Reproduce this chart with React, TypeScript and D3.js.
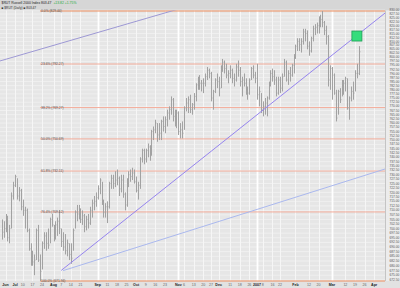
import React from "react";
import * as d3 from "d3";

// ---------- calendar ----------
const HOLIDAYS = ["2006-07-04", "2006-09-04", "2006-11-23", "2006-12-25", "2007-01-01", "2007-01-02", "2007-01-15", "2007-02-19", "2007-04-06"];
const fmt = d3.timeFormat("%Y-%m-%d");
const tradingDays: Date[] = d3.timeDay
  .range(new Date(2006, 5, 22), new Date(2007, 3, 14))
  .filter((d) => d.getDay() !== 0 && d.getDay() !== 6 && !HOLIDAYS.includes(fmt(d)));
const idxOf = (s: string) => tradingDays.findIndex((d) => fmt(d) === s);

// ---------- price data ($RUT daily, Jun 22 2006 .. Mar 21 2007) ----------
const highs = [
  705, 704, 708, 707, 702, 720, 726, 730, 728, 723, 722, 716, 712, 711, 700, 692, 688, 686, 700, 702, 686,
  693, 698, 698, 700, 706, 708, 702, 704, 706, 710, 700, 698, 697, 694, 692, 692, 700, 710, 713, 713,
  711, 710, 708, 707, 708, 712, 716, 718, 720, 724, 728, 726, 716, 714, 715, 726, 730, 730, 732,
  733, 729, 730, 730, 720, 728, 732, 733, 734, 733, 729, 726, 740, 745, 745, 745, 748, 747, 756, 758,
  762, 760, 760, 762, 764, 764, 768, 770, 776, 775, 768, 768, 767, 760, 761, 770, 775, 776, 777, 772,
  778, 784, 788, 789, 786, 787, 790, 794, 793, 791, 780, 787, 790, 788, 795, 799, 798, 796, 792,
  795, 793, 790, 796, 798, 794, 788, 790, 787, 782, 787, 794, 795, 791, 796, 782, 778,
  773, 775, 776, 785, 792, 793, 792, 788, 788, 788, 790, 799, 798, 792, 794, 796, 802, 808, 812,
  812, 812, 818, 818, 817, 810, 813, 820, 821, 822, 826, 827, 829.44, 823, 820, 814, 795, 794, 790,
  780, 780, 781, 786, 786, 788, 787, 776, 782, 785, 792, 796, 807,
];
const lows = [
  694, 695, 698, 693, 692, 700, 716, 723, 716, 715, 710, 707, 700, 698, 688, 680, 680, 675, 683, 682, 671.94,
  678, 689, 688, 689, 692, 701, 693, 694, 696, 697, 690, 688, 686, 685, 683, 681, 688, 700, 704, 705,
  703, 702, 698, 699, 700, 702, 706, 710, 712, 716, 719, 713, 706, 706, 703, 711, 722, 722, 723,
  724, 718, 720, 717, 710, 712, 723, 726, 727, 725, 720, 716, 722, 737, 736, 737, 740, 738, 741, 750,
  754, 749, 750, 750, 755, 754, 758, 762, 765, 761, 758, 757, 753, 751, 751, 756, 767, 766, 766, 765,
  768, 773, 780, 780, 779, 778, 782, 786, 787, 773, 768, 778, 781, 776, 781, 791, 790, 787, 784,
  787, 784, 782, 785, 788, 782, 776, 782, 777, 774, 777, 786, 787, 784, 774, 770, 766,
  764, 765, 764, 774, 782, 785, 783, 776, 777, 778, 779, 788, 785, 783, 785, 788, 790, 799, 804,
  804, 803, 808, 810, 805, 801, 803, 810, 814, 815, 815, 819, 819, 814, 808, 782, 780, 774, 777,
  761, 765, 772, 776, 777, 779, 768, 762, 773, 774, 779, 787, 789,
];
const closes = [
  698, 700, 705, 695, 700, 718, 724, 729, 718, 721, 712, 710, 710, 699, 689, 684, 682, 683, 699, 683, 677,
  692, 696, 692, 691, 705, 702, 695, 702, 704, 700, 693, 690, 688, 692, 686, 684, 699, 709, 708, 711,
  705, 707, 701, 705, 703, 710, 714, 715, 717, 722, 727, 714, 709, 712, 712, 725, 728, 725, 727,
  728, 722, 727, 719, 713, 726, 730, 729, 731, 726, 721, 724, 739, 744, 739, 744, 746, 741, 755, 756,
  760, 753, 754, 761, 758, 762, 766, 768, 774, 764, 765, 766, 755, 756, 754, 769, 772, 774, 768, 771,
  776, 783, 786, 784, 784, 784, 788, 792, 790, 775, 779, 786, 785, 781, 794, 797, 793, 789, 790,
  792, 787, 786, 794, 792, 785, 786, 784, 780, 778, 786, 793, 789, 787, 777, 779, 768,
  770, 772, 775, 784, 790, 788, 786, 778, 786, 781, 788, 797, 786, 790, 789, 795, 800, 807, 810,
  808, 810, 816, 815, 807, 804, 812, 818, 819, 820, 825, 824, 822, 817, 813, 786, 793, 789, 778,
  763, 779, 774, 783, 784, 787, 769, 775, 779, 778, 790, 790, 803.47,
];

// ---------- Fibonacci retracement ----------
const fibPrices = [829.44, 795.85, 769.27, 750.69, 732.11, 709.12, 671.94];
const fibLabels = ["0.0% (829.44)", "23.6% (792.27)", "38.2% (769.27)", "50.0% (750.69)", "61.8% (732.11)", "76.4% (709.12)", "100.0% (671.94)"];
const fibStartDate = "2006-07-21";

// ---------- trend lines (trading-day index, price) ----------
const trendSteep = [[31, 677.5], [201, 829.44]];
const trendLow = [[32, 677.4], [200, 733.4]];
const trendUpper = [[-1, 797.7], [92, 830.7]];
const markerPoint = [185, 813.4];

// ---------- axis ticks ----------
const tickDates = [
  "2006-06-26", "2006-07-03", "2006-07-10", "2006-07-17", "2006-07-24", "2006-08-01", "2006-08-07", "2006-08-14",
  "2006-08-21", "2006-09-01", "2006-09-11", "2006-09-18", "2006-09-25", "2006-10-02", "2006-10-09", "2006-10-16",
  "2006-10-23", "2006-11-01", "2006-11-06", "2006-11-13", "2006-11-20", "2006-11-27", "2006-12-01", "2006-12-11",
  "2006-12-18", "2006-12-26", "2007-01-03", "2007-01-08", "2007-01-16", "2007-01-22", "2007-02-01", "2007-02-12",
  "2007-02-20", "2007-03-01", "2007-03-12", "2007-03-19", "2007-03-26", "2007-04-02",
];
const tickLabels = [
  "Jun", "Jul", "10", "17", "24", "Aug", "7", "14", "21", "Sep", "11", "18", "25", "Oct", "9", "16",
  "23", "Nov", "6", "13", "20", "27", "Dec", "11", "18", "26", "2007", "8", "16", "22", "Feb", "12",
  "20", "Mar", "12", "19", "26", "Apr",
];
const strongMonths = ["2006-09-01", "2006-11-01", "2007-01-03", "2007-03-01"];
const priceTicks = d3.range(672.5, 830.001, 2.5);

const titleMain = "$RUT Russell 2000 Index  803.47";
const titleChange = "+13.82 +1.75%";
const titleSub = "\u25A0 $RUT (Daily) \u25A0 803.47";

const PL = 0, PR = 385, PT = 10.5, PB = 281;
const FONT = "'Liberation Sans', Arial, sans-serif";

export default function App() {
  const x = d3.scaleLinear().domain([0, 200]).range([1.7, 385.7]);
  const y = d3.scaleLog().domain([671.94, 829.44]).range([281, 11]);
  const line = d3.line<number[]>().x((d) => x(d[0])).y((d) => y(d[1]));

  const fibX0 = x(idxOf(fibStartDate));

  return (
    <svg width={400} height={288} style={{ position: "absolute", left: 0, top: 0, display: "block" }} fontFamily={FONT}>
      <defs>
        <clipPath id="plotClip">
          <rect x={PL} y={PT} width={PR - PL} height={PB - PT} />
        </clipPath>
      </defs>
      <rect x={0} y={0} width={400} height={288} fill="#e2e2e2" />
      <rect x={0} y={0} width={400} height={PT} fill="#d6d6d6" />
      <rect x={PL} y={PT} width={PR - PL} height={PB - PT} fill="#e6e6e6" />
      <rect x={PR} y={PT} width={400 - PR} height={PB - PT} fill="#ececec" />

      {/* horizontal grid */}
      {priceTicks.map((v) => (
        <line key={"h" + v} x1={PL} x2={PR} y1={y(v)} y2={y(v)} stroke="#f4f4f4" strokeWidth={0.7} />
      ))}
      {/* vertical grid */}
      {tickDates.map((s) => {
        const xx = Math.round(x(idxOf(s))) + 0.5;
        const strong = strongMonths.includes(s);
        return (
          <line key={"v" + s} x1={xx} x2={xx} y1={PT} y2={PB} stroke={strong ? "#ffffff" : "#f6f6f6"} strokeWidth={strong ? 1.8 : 1} />
        );
      })}

      {/* fib lines */}
      {fibPrices.map((p, k) => {
        const edge = k === 0 || k === fibPrices.length - 1;
        return (
          <line key={"f" + k} x1={fibX0} x2={PR} y1={y(p)} y2={y(p)} stroke={edge ? "#ee8d5e" : "#f4ae9c"} strokeWidth={edge ? 1.2 : 1} />
        );
      })}

      {/* price bars */}
      <g stroke="#a2a2a2" strokeWidth={1} fill="none">
        {highs.map((h, i) => {
          const xx = Math.round(x(i)) + 0.5;
          const yc = y(closes[i]);
          return <path key={"b" + i} d={`M${xx},${y(h)}V${y(lows[i])}M${xx},${yc}H${xx + 0.9}`} />;
        })}
      </g>

      {/* trend lines */}
      <g clipPath="url(#plotClip)" fill="none">
        <path d={line(trendUpper as any) || ""} stroke="#9d98d4" strokeWidth={1} />
        <path d={line(trendLow as any) || ""} stroke="#aab8ee" strokeWidth={1} />
        <path d={line(trendSteep as any) || ""} stroke="#9584ee" strokeWidth={1} />
      </g>

      {/* fib labels */}
      {fibPrices.map((p, k) => (
        <text key={"fl" + k} x={fibX0 + 1} y={y(p) + 1.2} fontSize={3.3} fill="#555">
          {fibLabels[k]}
        </text>
      ))}

      {/* marker */}
      <rect x={x(markerPoint[0]) - 5} y={y(markerPoint[1]) - 5} width={10} height={10} fill="#34dd7c" stroke="#1f9d55" strokeWidth={0.8} />

      {/* right axis */}
      <line x1={PR + 0.5} x2={PR + 0.5} y1={PT} y2={PB} stroke="#c4c4c4" strokeWidth={1} />
      {priceTicks.map((v) => (
        <text key={"yt" + v} x={389.5} y={y(v) + 1.1} fontSize={3.2} fill="#555">
          {d3.format(".2f")(v)}
        </text>
      ))}

      {/* bottom axis */}
      {tickDates.map((s, k) => {
        const isMonth = isNaN(Number(tickLabels[k])) || tickLabels[k] === "2007";
        return (
          <text key={"xt" + s} x={x(idxOf(s))} y={286} fontSize={3.6} textAnchor="middle" fill={isMonth ? "#222" : "#666"} fontWeight={isMonth ? "bold" : "normal"}>
            {tickLabels[k]}
          </text>
        );
      })}

      {/* title */}
      <text x={1.5} y={4.3} fontSize={3.4} fill="#222">
        {titleMain}
        <tspan fill="#1faa3c" dx={2}>{titleChange}</tspan>
      </text>
      <text x={1.5} y={8.8} fontSize={3.2} fill="#333">
        {titleSub}
      </text>
    </svg>
  );
}
